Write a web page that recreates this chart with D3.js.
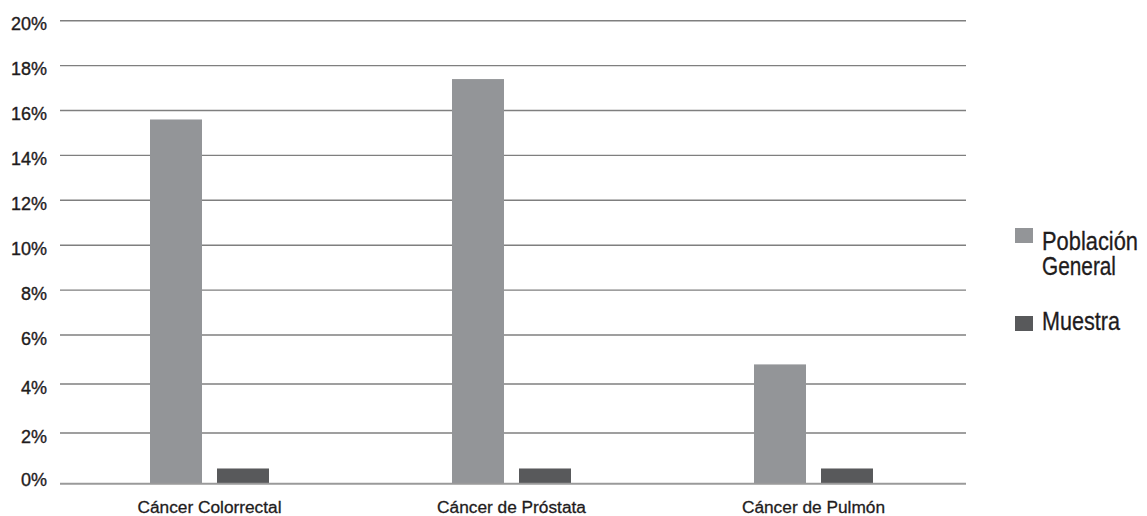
<!DOCTYPE html>
<html>
<head>
<meta charset="utf-8">
<script src="https://cdn.jsdelivr.net/npm/d3@7"></script>
<style>
  html, body { margin: 0; padding: 0; background: #fff; }
  svg { display: block; }
</style>
</head>
<body>
<svg id="chart" width="1147" height="516"></svg>
<script>
// Chart data
const categories = ["Cáncer Colorrectal", "Cáncer de Próstata", "Cáncer de Pulmón"];
const seriesNames = ["Población General", "Muestra"];
const poblacionGeneral = [15.6, 17.4, 4.8];
const muestra = [0.6, 0.6, 0.6];
const tickValues = [0, 2, 4, 6, 8, 10, 12, 14, 16, 18, 20];
const tickLabels = ["0%", "2%", "4%", "6%", "8%", "10%", "12%", "14%", "16%", "18%", "20%"];
const colors = ["#939598", "#58595b"];

const svg = d3.select("#chart");
const left = 60, right = 966;

// Vertical scale: the lower band (0–6 %) is drawn slightly taller than the rest
const y = d3.scaleLinear()
  .domain([0, 2, 4, 6, 20])
  .range([483.7, 433, 384, 335, 20.7]);

const x0 = d3.scaleBand().domain(categories).range([left, right]).padding(0);
const x1 = d3.scaleBand().domain(seriesNames).range([-1.5, x0.bandwidth() - 1.5])
  .paddingInner(0.224).paddingOuter(1.366);

const font = "'Liberation Sans', Arial, sans-serif";
const ink = "#1f1c1d";

// Gridlines
svg.append("g").selectAll("line")
  .data(tickValues.filter(v => v > 0))
  .join("line")
  .attr("x1", left).attr("x2", right)
  .attr("y1", d => y(d)).attr("y2", d => y(d))
  .attr("stroke", "#7f7f7f").attr("stroke-width", 1.4);

// Y tick labels
svg.append("g").selectAll("text")
  .data(tickValues)
  .join("text")
  .attr("x", 47)
  .attr("y", d => y(d) + (d === 0 ? 2.5 : 9.5))
  .attr("text-anchor", "end")
  .attr("font-family", font)
  .attr("font-size", 18)
  .attr("stroke", ink).attr("stroke-width", 0.35)
  .attr("fill", ink)
  .text((d, i) => tickLabels[i]);

// Bars
const rows = categories.map((c, i) => ({ cat: c, vals: [poblacionGeneral[i], muestra[i]] }));
const groups = svg.append("g").selectAll("g")
  .data(rows)
  .join("g")
  .attr("transform", d => `translate(${x0(d.cat)},0)`);

groups.selectAll("rect")
  .data(d => d.vals.map((v, j) => ({ key: seriesNames[j], v, j })))
  .join("rect")
  .attr("x", d => x1(d.key))
  .attr("width", x1.bandwidth())
  .attr("y", d => y(d.v))
  .attr("height", d => y(0) - y(d.v))
  .attr("fill", d => colors[d.j]);

// Baseline
svg.append("line")
  .attr("x1", left).attr("x2", right)
  .attr("y1", y(0)).attr("y2", y(0))
  .attr("stroke", "#9a9a9a").attr("stroke-width", 2);

// Category labels, centred under each pair of bars
const groupCenter = x1(seriesNames[0]) + x1.bandwidth() + (x1.step() - x1.bandwidth()) / 2;
svg.append("g").selectAll("text")
  .data(categories)
  .join("text")
  .attr("x", d => x0(d) + groupCenter)
  .attr("y", 513)
  .attr("text-anchor", "middle")
  .attr("font-family", font)
  .attr("font-size", 17.3)
  .attr("stroke", ink).attr("stroke-width", 0.3)
  .attr("fill", ink)
  .text(d => d);

// Legend
const legend = svg.append("g");
const legendItems = [
  { lines: ["Población", "General"], widths: [96, 74], sy: 228, ty: 250 },
  { lines: ["Muestra"], widths: [78], sy: 316, ty: 330 }
];
legendItems.forEach((it, i) => {
  legend.append("rect")
    .attr("x", 1015).attr("y", it.sy)
    .attr("width", 18).attr("height", 15)
    .attr("fill", colors[i]);
  it.lines.forEach((l, k) => {
    legend.append("text")
      .attr("x", 1042).attr("y", it.ty + k * 24.5)
      .attr("font-family", font)
      .attr("font-size", 25)
      .attr("textLength", it.widths[k])
      .attr("lengthAdjust", "spacingAndGlyphs")
      .attr("stroke", ink).attr("stroke-width", 0.3)
      .attr("fill", ink)
      .text(l);
  });
});
</script>
</body>
</html>
